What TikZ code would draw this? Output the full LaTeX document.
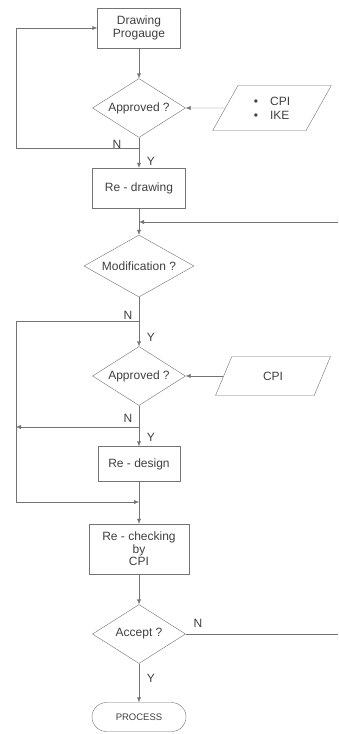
\documentclass[tikz,border=0pt]{standalone}
\usepackage{fontspec}
\setmainfont{Liberation Sans}
\usetikzlibrary{shapes.geometric,shapes.misc,arrows.meta}
\definecolor{linegray}{gray}{0.45}
\definecolor{textgray}{gray}{0.25}
\begin{document}
\begin{tikzpicture}[x=1pt,y=-1pt,
    font=\fontsize{12}{12.5}\selectfont,
    every node/.style={text=textgray},
    box/.style={draw=linegray,rectangle,align=center,inner sep=2pt},
    decision/.style={draw=linegray,diamond,aspect=1.6,inner sep=0pt},
    datain/.style={draw=linegray,trapezium,trapezium stretches=true,inner sep=0pt,align=left},
    terminal/.style={draw=linegray,rounded rectangle,inner sep=0pt,font=\fontsize{9.5}{11}\selectfont},
    arr/.style={draw=linegray,-{Latex[length=5pt,width=4pt]}},
    line/.style={draw=linegray},
    yn/.style={inner sep=0pt}]
    \fill[white] (0,0) rectangle (338,734);
    \useasboundingbox (0,0) rectangle (338,734);
    \node[box,minimum width=83pt,minimum height=40pt] (draw) at (139,28) {Drawing\\Progauge};
    \node[decision,minimum width=93pt,minimum height=59pt] (app1) at (139,108) {Approved ?};
    \node[datain,trapezium left angle=59,trapezium right angle=121,
      minimum width=119pt,minimum height=45pt] (in1) at (272,108)
      {\textbullet\hspace{12pt}CPI\\[1.5pt]\textbullet\hspace{12pt}IKE};
    \node[box,minimum width=93pt,minimum height=40pt] (redraw) at (139,188) {Re - drawing};
    \node[decision,minimum width=110pt,minimum height=62pt] (mod) at (139,266) {Modification ?};
    \node[decision,minimum width=93pt,minimum height=59pt] (app2) at (139,376) {Approved ?};
    \node[datain,trapezium left angle=65,trapezium right angle=115,
      minimum width=115pt,minimum height=39pt] (in2) at (273,376) {CPI};
    \node[box,minimum width=82pt,minimum height=35pt] (redesign) at (139,464) {Re - design};
    \node[box,minimum width=100pt,minimum height=50pt] (recheck) at (139,549) {Re - checking\\by\\CPI};
    \node[decision,minimum width=93pt,minimum height=59pt] (acc) at (139,634) {Accept ?};
    \node[terminal,minimum width=94pt,minimum height=29pt] (proc) at (139,717) {PROCESS};
    \coordinate (loop1) at (16,148);
    \coordinate (fb1) at (338,222);
    \coordinate (j1) at (139,222);
    \coordinate (loop2) at (16,321);
    \coordinate (loop3) at (16,427);
    \coordinate (j2) at (139,502);
    \coordinate (fb2) at (338,634);
    \draw[arr] (draw) -- (app1);
    \draw[arr] (in1) -- (app1);
    \draw[arr] (app1.south) |- (loop1) |- (draw.west);
    \draw[arr] (app1) -- (redraw);
    \draw[arr] (fb1) -- (j1);
    \draw[arr] (redraw) -- (mod);
    \draw[arr] (mod.south) |- (loop2) |- (j2);
    \draw[arr] (mod) -- (app2);
    \draw[arr] (in2) -- (app2);
    \draw[arr] (app2.south) |- (loop3);
    \draw[arr] (app2) -- (redesign);
    \draw[arr] (redesign) -- (recheck);
    \draw[arr] (recheck) -- (acc);
    \draw[line] (acc) -- (fb2);
    \draw[arr] (acc) -- (proc);
    \node[yn] (n1) at (117,144) {N};
    \node[yn] (y1) at (151,161) {Y};
    \node[yn] (n2) at (128,315) {N};
    \node[yn] (y2) at (151,337) {Y};
    \node[yn] (n3) at (128,418) {N};
    \node[yn] (y3) at (151,437) {Y};
    \node[yn] (n4) at (198,623) {N};
    \node[yn] (y4) at (151,678) {Y};
\end{tikzpicture}
\end{document}
